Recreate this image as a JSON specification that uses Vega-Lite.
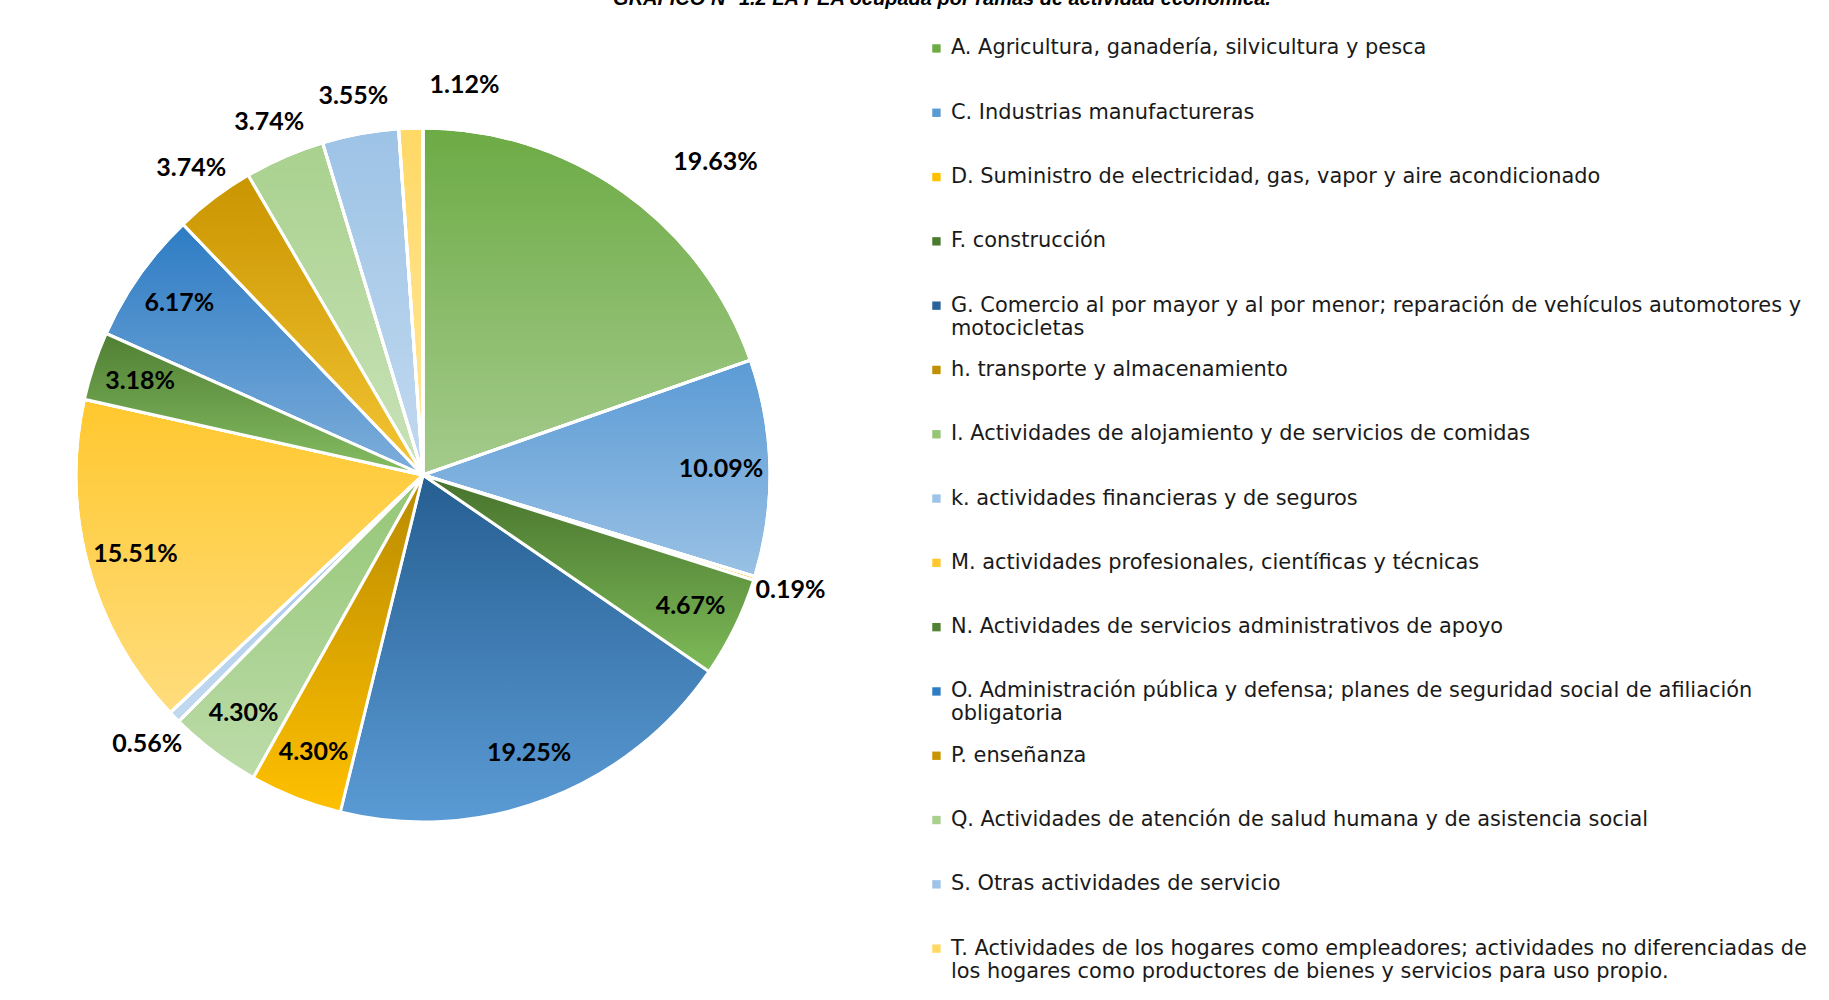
{
  "$schema": "https://vega.github.io/schema/vega-lite/v6.json",
  "width": 846,
  "height": 950,
  "autosize": {"type": "none"},
  "padding": {"left": 0, "top": 0, "right": 983, "bottom": 50},
  "background": "white",
  "config": {"view": {"stroke": null}},
  "title": {
    "text": "GRÁFICO N° 1.2 LA PEA ocupada por ramas de actividad económica.",
    "font": "Liberation Sans",
    "fontSize": 20,
    "fontWeight": "bold",
    "fontStyle": "italic",
    "color": "#000000",
    "anchor": "middle",
    "frame": "group",
    "baseline": "alphabetic",
    "offset": -25,
    "dx": 519
  },
  "data": {
    "values": [
      {"cat": "A. Agricultura, ganadería, silvicultura y pesca", "share": 0.1963, "ord": 1},
      {"cat": "C. Industrias manufactureras", "share": 0.1009, "ord": 2},
      {"cat": "D. Suministro de electricidad, gas, vapor y aire acondicionado", "share": 0.0019, "ord": 3},
      {"cat": "F. construcción", "share": 0.0467, "ord": 4},
      {"cat": "G. Comercio al por mayor y al por menor; reparación de vehículos automotores y motocicletas", "share": 0.1925, "ord": 5},
      {"cat": "h. transporte y almacenamiento", "share": 0.0430, "ord": 6},
      {"cat": "I. Actividades de alojamiento y de servicios de comidas", "share": 0.0430, "ord": 7},
      {"cat": "k. actividades financieras y de seguros", "share": 0.0056, "ord": 8},
      {"cat": "M. actividades profesionales, científicas y técnicas", "share": 0.1551, "ord": 9},
      {"cat": "N. Actividades de servicios administrativos de apoyo", "share": 0.0318, "ord": 10},
      {"cat": "O. Administración pública y defensa; planes de seguridad social de afiliación obligatoria", "share": 0.0617, "ord": 11},
      {"cat": "P. enseñanza", "share": 0.0374, "ord": 12},
      {"cat": "Q. Actividades de atención de salud humana y de asistencia social", "share": 0.0374, "ord": 13},
      {"cat": "S.  Otras actividades de servicio", "share": 0.0355, "ord": 14},
      {"cat": "T. Actividades de los hogares como empleadores; actividades no diferenciadas de los hogares como productores de bienes y servicios para uso propio.", "share": 0.0112, "ord": 15}
    ]
  },
  "encoding": {
    "theta": {"field": "share", "type": "quantitative", "stack": true},
    "order": {"field": "ord", "type": "quantitative"}
  },
  "layer": [
    {
      "mark": {"type": "arc", "outerRadius": 347, "stroke": "white", "strokeWidth": 3},
      "encoding": {
        "color": {
          "field": "cat",
          "type": "nominal",
          "scale": {
            "domain": [
              "A. Agricultura, ganadería, silvicultura y pesca",
              "C. Industrias manufactureras",
              "D. Suministro de electricidad, gas, vapor y aire acondicionado",
              "F. construcción",
              "G. Comercio al por mayor y al por menor; reparación de vehículos automotores y motocicletas",
              "h. transporte y almacenamiento",
              "I. Actividades de alojamiento y de servicios de comidas",
              "k. actividades financieras y de seguros",
              "M. actividades profesionales, científicas y técnicas",
              "N. Actividades de servicios administrativos de apoyo",
              "O. Administración pública y defensa; planes de seguridad social de afiliación obligatoria",
              "P. enseñanza",
              "Q. Actividades de atención de salud humana y de asistencia social",
              "S.  Otras actividades de servicio",
              "T. Actividades de los hogares como empleadores; actividades no diferenciadas de los hogares como productores de bienes y servicios para uso propio."
            ],
            "range": ["#6DAB45", "#5B9BD5", "#FFC000", "#4A7A2E", "#2A6399", "#C09000", "#94C675", "#9DC3E6", "#FFC82E", "#548235", "#2E7CC4", "#C99500", "#A9D18E", "#9DC3E6", "#FFD966"]
          },
          "legend": {
            "title": null,
            "orient": "none",
            "legendX": 926,
            "legendY": 38,
            "padding": 0,
            "symbolType": "square",
            "symbolSize": 70,
            "symbolStrokeWidth": 0,
            "labelFont": "DejaVu Sans",
            "labelFontSize": 20.9,
            "labelColor": "#1a1a1a",
            "labelLimit": 1000,
            "labelOffset": 4,
            "labelBaseline": "middle",
            "rowPadding": 19.3,
            "gridAlign": "all",
            "labelExpr": "datum.value == 'G. Comercio al por mayor y al por menor; reparación de vehículos automotores y motocicletas' ? ['G. Comercio al por mayor y al por menor; reparación de vehículos automotores y', 'motocicletas'] : datum.value == 'O. Administración pública y defensa; planes de seguridad social de afiliación obligatoria' ? ['O. Administración pública y defensa; planes de seguridad social de afiliación', 'obligatoria'] : datum.value == 'T. Actividades de los hogares como empleadores; actividades no diferenciadas de los hogares como productores de bienes y servicios para uso propio.' ? ['T. Actividades de los hogares como empleadores; actividades no diferenciadas de', 'los hogares como productores de bienes y servicios para uso propio.'] : datum.label"
          }
        }
      }
    },
    {
      "mark": {
        "type": "arc",
        "outerRadius": 347,
        "stroke": "white",
        "strokeWidth": 3,
        "fill": {"gradient": "linear", "x1": 0, "y1": 0, "x2": 0, "y2": 1, "stops": [{"offset": 0, "color": "rgba(255,255,255,0)"}, {"offset": 1, "color": "rgba(255,255,255,0.38)"}]}
      },
      "encoding": {
        "detail": {"field": "cat", "type": "nominal"}
      }
    },
    {
      "mark": {
        "type": "arc", "outerRadius": 347, "stroke": "white", "strokeWidth": 3,
        "fill": {"gradient": "linear", "x1": 0, "y1": 0, "x2": 0, "y2": 1, "stops": [{"offset": 0, "color": "#255E91"}, {"offset": 1, "color": "#5B9BD5"}]}
      },
      "encoding": {
        "detail": {"field": "cat", "type": "nominal"},
        "opacity": {"condition": {"test": "substring(datum.cat, 0, 1) == 'G'", "value": 1}, "value": 0}
      }
    },
    {
      "mark": {
        "type": "arc", "outerRadius": 347, "stroke": "white", "strokeWidth": 3,
        "fill": {"gradient": "linear", "x1": 0, "y1": 0, "x2": 0, "y2": 1, "stops": [{"offset": 0, "color": "#B88A00"}, {"offset": 1, "color": "#FFC000"}]}
      },
      "encoding": {
        "detail": {"field": "cat", "type": "nominal"},
        "opacity": {"condition": {"test": "substring(datum.cat, 0, 1) == 'h'", "value": 1}, "value": 0}
      }
    },
    {
      "mark": {
        "type": "arc", "outerRadius": 347, "stroke": "white", "strokeWidth": 3,
        "fill": {"gradient": "linear", "x1": 0, "y1": 0, "x2": 0, "y2": 1, "stops": [{"offset": 0, "color": "#C99500"}, {"offset": 1, "color": "#F4C534"}]}
      },
      "encoding": {
        "detail": {"field": "cat", "type": "nominal"},
        "opacity": {"condition": {"test": "substring(datum.cat, 0, 1) == 'P'", "value": 1}, "value": 0}
      }
    },
    {
      "mark": {
        "type": "arc", "outerRadius": 347, "stroke": "white", "strokeWidth": 3,
        "fill": {"gradient": "linear", "x1": 0, "y1": 0, "x2": 0, "y2": 1, "stops": [{"offset": 0, "color": "#47722C"}, {"offset": 1, "color": "#7DBA58"}]}
      },
      "encoding": {
        "detail": {"field": "cat", "type": "nominal"},
        "opacity": {"condition": {"test": "substring(datum.cat, 0, 1) == 'F'", "value": 1}, "value": 0}
      }
    },
    {
      "mark": {
        "type": "arc", "outerRadius": 347, "stroke": "white", "strokeWidth": 3,
        "fill": {"gradient": "linear", "x1": 0, "y1": 0, "x2": 0, "y2": 1, "stops": [{"offset": 0, "color": "#507F33"}, {"offset": 1, "color": "#86BE63"}]}
      },
      "encoding": {
        "detail": {"field": "cat", "type": "nominal"},
        "opacity": {"condition": {"test": "substring(datum.cat, 0, 1) == 'N'", "value": 1}, "value": 0}
      }
    },
    {
      "mark": {"type": "text", "radius": 298, "font": "Lato", "fontWeight": "bold", "fontSize": 25, "color": "#000000"},
      "encoding": {
        "detail": {"field": "cat", "type": "nominal"},
        "text": {
          "condition": {"test": "indexof(['C','F','G','h','I','M','N','O'], substring(datum.cat, 0, 1)) >= 0", "field": "share", "type": "quantitative", "format": ".2%"},
          "value": ""
        }
      }
    },
    {
      "mark": {"type": "text", "radius": 385, "font": "Lato", "fontWeight": "bold", "fontSize": 25, "color": "#000000"},
      "encoding": {
        "detail": {"field": "cat", "type": "nominal"},
        "text": {
          "condition": {"test": "indexof(['D','k','P','Q','S'], substring(datum.cat, 0, 1)) >= 0", "field": "share", "type": "quantitative", "format": ".2%"},
          "value": ""
        }
      }
    },
    {
      "mark": {"type": "text", "radius": 428, "dx": 45, "dy": 36, "font": "Lato", "fontWeight": "bold", "fontSize": 25, "color": "#000000"},
      "encoding": {
        "detail": {"field": "cat", "type": "nominal"},
        "text": {
          "condition": {"test": "substring(datum.cat, 0, 1) == 'A'", "field": "share", "type": "quantitative", "format": ".2%"},
          "value": ""
        }
      }
    },
    {
      "mark": {"type": "text", "radius": 385, "dx": 55, "dy": -5, "font": "Lato", "fontWeight": "bold", "fontSize": 25, "color": "#000000"},
      "encoding": {
        "detail": {"field": "cat", "type": "nominal"},
        "text": {
          "condition": {"test": "substring(datum.cat, 0, 1) == 'T'", "field": "share", "type": "quantitative", "format": ".2%"},
          "value": ""
        }
      }
    }
  ]
}
